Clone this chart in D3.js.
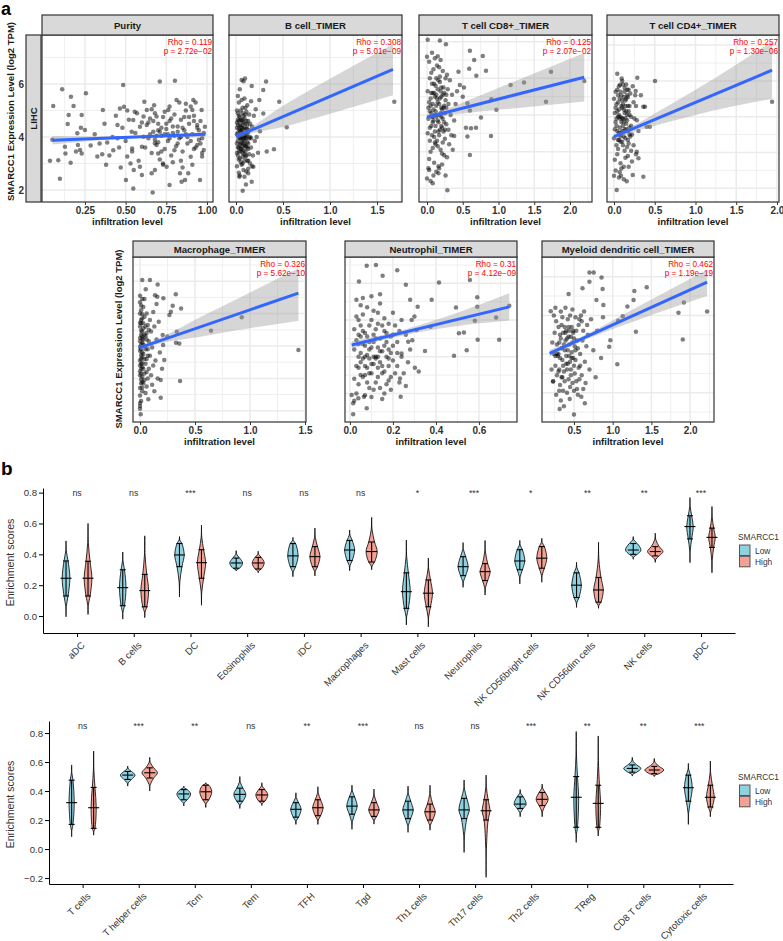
<!DOCTYPE html>
<html><head><meta charset="utf-8">
<script src="https://cdn.jsdelivr.net/npm/d3@7"></script>
<style>body{margin:0;background:#fff}svg{display:block}text{font-family:"Liberation Sans",Arial,Helvetica,sans-serif}</style>
</head><body><svg id="c" width="783" height="941"></svg>
<script>
// ================= DATA: panel a =================
const panelTitles=["Purity","B cell_TIMER","T cell CD8+_TIMER","T cell CD4+_TIMER","Macrophage_TIMER","Neutrophil_TIMER","Myeloid dendritic cell_TIMER"];
const rhoLabels=["0.119","0.308","0.125","0.257","0.326","0.31","0.462"];
const pLabels=["2.72e\u221202","5.01e\u221209","2.07e\u221202","1.30e\u221206","5.62e\u221210","4.12e\u221209","1.19e\u221219"];
const cancerLabel="LIHC";
const yTitle="SMARCC1 Expression Level (log2 TPM)";
const xTitle="infiltration level";

const purityPts=[[0.05,3.9],[0.055,5.17],[0.11,5.8],[0.164,5.52],[0.256,5.65],[0.18,5.17],[0.15,4.83],[0.144,4.49],[0.23,4.83],[0.225,4.35],[0.25,4.26],[0.203,4.14],[0.035,3.1],[0.086,3.12],[0.096,2.42],[0.162,3.03],[0.13,3.38],[0.195,3.45],[0.22,3.51],[0.127,3.63],[0.207,3.7],[0.285,3.68],[0.23,3.38],[0.326,3.26],[0.36,5.02],[0.356,3.35],[0.387,3.79],[0.424,3.5],[0.45,4.45],[0.465,5.08],[0.49,5.14],[0.485,5.96],[0.502,2.38],[0.547,2.06],[0.51,3.26],[0.53,3.0],[0.54,3.57],[0.537,4.2],[0.547,4.64],[0.556,4.95],[0.615,5.33],[0.63,5.02],[0.61,4.77],[0.588,4.39],[0.61,4.01],[0.6,3.63],[0.588,2.88],[0.6,2.57],[0.66,2.63],[0.666,1.91],[0.68,2.75],[0.71,6.09],[0.803,6.12],[0.675,5.2],[0.69,4.77],[0.71,4.2],[0.68,3.76],[0.7,3.38],[0.73,3.0],[0.752,2.88],[0.77,2.19],[0.762,5.02],[0.813,5.4],[0.834,2.63],[0.844,2.31],[0.865,2.38],[0.885,2.63],[0.957,2.38],[0.916,5.4],[0.91,5.02],[0.967,5.02],[0.987,4.39],[0.98,3.51],[0.97,3.26],
[0.63,4.45],[0.64,3.95],[0.65,4.7],[0.66,3.4],[0.67,4.2],[0.68,4.9],[0.69,3.7],[0.70,4.5],[0.71,3.15],[0.72,4.05],[0.73,4.75],[0.74,3.55],[0.75,4.3],[0.76,3.85],[0.77,4.6],[0.78,3.3],[0.79,4.15],[0.80,4.85],[0.81,3.65],[0.82,4.4],[0.83,3.95],[0.84,4.65],[0.85,3.45],[0.86,4.25],[0.87,5.0],[0.88,3.75],[0.89,4.5],[0.90,3.25],[0.91,4.1],[0.92,4.8],[0.93,3.6],[0.94,4.35],[0.95,3.9],[0.96,4.6],[0.97,3.4],[0.98,4.15],
[0.62,3.6],[0.64,4.55],[0.66,5.05],[0.68,3.9],[0.70,4.25],[0.72,3.45],[0.74,4.95],[0.76,4.1],[0.78,4.7],[0.80,3.5],[0.82,4.2],[0.84,3.1],[0.86,4.75],[0.88,4.0],[0.90,5.15],[0.92,3.55],[0.94,4.45],[0.96,3.75],[0.73,2.95],[0.79,3.05],[0.85,2.85],[0.91,2.95],[0.87,5.25],[0.93,5.3],[0.83,5.3],[0.77,5.15],
[0.31,4.1],[0.34,3.75],[0.37,4.5],[0.40,3.3],[0.42,4.0],[0.44,4.8],[0.46,3.6],[0.48,4.35],[0.50,3.85],[0.52,4.65],[0.54,3.45],[0.56,4.15],[0.58,3.1],[0.60,4.55],[0.38,2.95],[0.47,2.85],[0.55,2.75],[0.51,5.0],[0.57,4.9],[0.45,3.95],
[0.65,4.1],[0.70,3.8],[0.75,4.5],[0.80,4.05],[0.85,4.35],[0.90,3.85],[0.95,4.25],[0.67,4.6],[0.72,4.35],[0.77,3.95],[0.82,3.75],[0.87,4.1],[0.92,4.6],[0.97,3.95],[0.74,4.1],[0.79,4.4],[0.84,4.0],[0.89,4.75],[0.94,3.7],[0.69,4.05]];

const bcellPts=[[1.684,5.33],[0.54,4.37],[0.46,5.33],[0.404,3.54],[0.327,3.45],[0.32,6.09],[0.29,5.77],[0.248,5.4],[0.167,5.92],[0.096,6.21],[0.071,1.97],[0.106,2.21],[0.167,2.31],[0.035,2.5],[0.22,4.0],[0.234,3.41],[0.255,4.22],[0.29,4.89],[0.184,2.88],[0.15,3.0],[0.13,2.63],
[0.01,4.1],[0.03,3.6],[0.05,4.4],[0.07,3.9],[0.09,4.7],[0.11,3.3],[0.13,4.2],[0.02,4.9],[0.04,3.2],[0.06,4.0],[0.08,3.5],[0.10,4.5],[0.12,3.8],[0.14,4.85],[0.01,3.4],[0.03,4.6],[0.05,3.75],[0.07,5.1],[0.09,3.1],[0.11,4.3],[0.13,3.55],[0.02,3.85],[0.04,4.25],[0.06,2.95],[0.08,4.55],[0.10,3.95],[0.12,5.2],[0.14,3.35],[0.01,4.55],[0.03,5.3],[0.05,3.05],[0.07,4.15],[0.09,3.7],[0.11,4.95],[0.13,2.8],[0.02,3.3],[0.04,4.75],[0.06,4.35],[0.08,2.75],[0.10,3.25],[0.12,4.1],[0.15,4.0],[0.01,2.9],[0.03,4.0],[0.05,5.0],[0.07,3.4],[0.09,4.05],[0.11,3.65],[0.13,4.6],[0.02,4.45],[0.04,3.7],[0.06,5.4],[0.08,3.95],[0.10,4.85],[0.12,3.1],[0.16,3.6],[0.03,2.65],[0.05,4.2],[0.07,4.65],[0.09,5.45],[0.11,2.7],[0.06,3.55],[0.08,4.3],[0.02,5.55],[0.04,2.55],[0.10,5.1],[0.12,4.45],[0.14,3.95],[0.17,4.4],[0.18,3.3],[0.19,4.8],[0.20,3.85],[0.21,5.05],[0.16,5.35],[0.17,2.9],[0.04,5.8],[0.06,6.15],[0.08,6.1],[0.05,3.45],[0.07,3.0],[0.09,2.5],[0.03,3.15],[0.01,5.0],
[0.02,4.15],[0.04,3.95],[0.06,4.6],[0.08,3.75],[0.10,4.15],[0.12,3.6],[0.03,4.3],[0.05,3.55],[0.07,4.45],[0.09,3.85],[0.11,4.05],[0.13,3.75],[0.01,3.75],[0.03,3.45],[0.05,4.65],[0.07,3.65],[0.09,4.35],[0.11,4.6],[0.04,4.45],[0.06,3.8],[0.08,4.8],[0.10,3.65],[0.02,3.6],[0.06,4.25],[0.08,4.05],[0.12,4.3],[0.14,4.25],[0.04,4.05],[0.10,3.45],[0.02,4.65],[0.07,3.25],[0.09,3.35],[0.05,3.95],[0.03,4.8],[0.11,3.95],[0.13,3.1],[0.15,4.5],[0.16,3.95],[0.01,4.35],[0.07,4.9]];

const cd8Pts=[[0.01,6.05],[0.18,6.03],[0.265,5.93],[0.6,5.75],[0.78,5.61],[0.66,5.5],[0.59,5.26],[0.825,5.21],[0.69,5.07],[1.734,5.18],[2.2,4.93],[1.357,4.89],[1.17,4.82],[1.664,4.36],[0.9,4.43],[0.97,4.14],[0.6,4.12],[0.755,3.93],[0.545,3.65],[0.615,3.64],[0.685,3.65],[0.565,3.41],[0.895,3.43],[0.6,2.91],[0.517,4.75],[0.565,4.32],[0.5,4.5],[0.44,5.18],[0.46,4.82],[0.38,3.43],[0.285,1.95],[0.08,2.14],[0.0,2.27],[0.16,2.41],[0.03,2.5],[0.0,5.59],
[0.02,4.2],[0.06,3.7],[0.10,4.6],[0.14,3.3],[0.18,4.9],[0.22,3.9],[0.26,4.4],[0.30,3.6],[0.04,5.0],[0.08,3.1],[0.12,4.1],[0.16,3.8],[0.20,4.5],[0.24,2.9],[0.28,5.1],[0.33,4.0],[0.01,3.5],[0.05,4.45],[0.09,5.25],[0.13,3.95],[0.17,3.45],[0.21,4.15],[0.25,3.35],[0.29,4.7],[0.03,2.8],[0.07,4.85],[0.11,3.55],[0.15,4.35],[0.19,3.05],[0.23,4.75],[0.27,3.75],[0.31,3.2],[0.02,3.9],[0.06,4.05],[0.10,2.7],[0.14,5.35],[0.18,4.0],[0.22,3.25],[0.26,5.0],[0.35,4.55],[0.04,3.3],[0.08,4.3],[0.12,4.8],[0.16,2.6],[0.20,3.7],[0.24,4.25],[0.28,2.85],[0.32,4.95],[0.01,4.65],[0.05,3.0],[0.09,3.85],[0.13,4.55],[0.17,5.3],[0.21,2.95],[0.25,4.05],[0.38,3.85],[0.03,5.45],[0.07,3.45],[0.11,4.0],[0.15,3.15],[0.19,4.65],[0.23,3.55],[0.27,4.2],[0.36,3.05],[0.02,2.55],[0.06,5.15],[0.10,3.4],[0.14,4.45],[0.18,3.6],[0.22,5.2],[0.30,4.3],[0.40,4.3],[0.04,4.1],[0.08,3.95],[0.12,3.2],[0.16,4.95],[0.20,4.2],[0.24,3.8],[0.34,3.45],[0.42,4.65],[0.09,2.35],[0.13,2.45],[0.17,2.55],[0.21,2.65],[0.26,2.35],[0.05,2.2],[0.11,5.55],[0.15,5.6],[0.19,5.5],[0.07,5.7],
[0.05,4.25],[0.08,3.8],[0.11,4.5],[0.14,4.0],[0.17,4.3],[0.20,3.95],[0.23,4.2],[0.06,4.6],[0.09,4.15],[0.12,3.7],[0.15,4.7],[0.18,4.45],[0.21,3.65],[0.24,4.6],[0.07,3.95],[0.10,4.85],[0.13,4.25],[0.16,3.55],[0.19,4.05],[0.22,4.55],[0.04,3.65],[0.11,3.25],[0.15,3.85],[0.18,5.05],[0.20,4.75],[0.13,5.0],[0.08,4.6],[0.25,3.6],[0.27,4.55],[0.03,4.35]];

const cd4Pts=[[1.94,4.42],[0.503,5.0],[0.286,5.09],[0.094,5.07],[0.074,4.89],[0.163,4.75],[0.266,4.72],[0.36,4.28],[0.38,4.28],[0.44,3.72],[0.4,3.72],[0.28,3.02],[0.36,2.32],[0.23,2.37],[0.156,2.2],[0.086,2.35],[0.033,1.95],[0.0,2.35],[0.3,2.84],
[0.01,4.1],[0.04,3.6],[0.07,4.5],[0.10,3.3],[0.13,4.8],[0.16,3.9],[0.19,4.3],[0.22,3.5],[0.02,4.7],[0.05,3.1],[0.08,4.0],[0.11,3.75],[0.14,4.45],[0.17,2.9],[0.20,4.65],[0.25,3.95],[0.00,3.4],[0.03,4.35],[0.06,4.85],[0.09,3.85],[0.12,3.45],[0.15,4.15],[0.18,3.25],[0.21,4.0],[0.01,2.8],[0.04,4.75],[0.07,3.5],[0.10,4.25],[0.13,3.05],[0.16,4.6],[0.19,3.7],[0.27,4.3],[0.02,3.85],[0.05,4.0],[0.08,2.7],[0.11,4.9],[0.14,3.95],[0.17,3.35],[0.23,4.85],[0.30,3.6],[0.00,4.5],[0.03,3.2],[0.06,4.2],[0.09,4.6],[0.12,2.6],[0.15,3.65],[0.18,4.75],[0.24,3.2],[0.01,3.65],[0.04,2.95],[0.07,3.95],[0.10,5.0],[0.13,4.1],[0.16,3.15],[0.20,3.45],[0.26,4.6],[0.02,2.5],[0.05,4.4],[0.08,3.3],[0.11,4.35],[0.14,2.85],[0.17,4.3],[0.22,2.75],[0.28,3.9],[0.03,3.95],[0.06,3.35],[0.09,2.55],[0.12,4.55],[0.15,4.9],[0.19,4.05],[0.24,4.4],[0.33,4.6],[0.04,5.2],[0.07,2.45],[0.10,3.6],[0.18,2.6],[0.06,2.3],[0.12,2.25],[0.21,3.05],[0.27,2.95],
[0.03,3.75],[0.06,4.05],[0.09,3.55],[0.12,4.2],[0.15,3.8],[0.18,4.15],[0.05,4.6],[0.08,3.45],[0.11,3.95],[0.14,4.3],[0.17,3.6],[0.04,4.15],[0.07,3.7],[0.10,4.45],[0.13,3.65],[0.16,4.05],[0.19,3.5],[0.02,4.25],[0.06,3.55],[0.09,4.3],[0.12,3.85],[0.15,4.5],[0.08,4.7],[0.11,3.2],[0.14,3.4],[0.05,3.35],[0.10,3.95],[0.13,4.7],[0.17,4.55],[0.21,3.75]];

const macroPts=[[1.44,3.88],[0.925,4.89],[0.645,4.47],[0.364,2.92],[0.325,5.6],[0.373,5.16],[0.28,5.06],[0.297,5.24],[0.267,4.96],[0.334,4.44],[0.357,4.08],[0.327,4.1],[0.212,5.47],[0.157,5.52],[0.09,6.04],[0.02,6.04],[0.16,5.9],[0.052,5.75],[0.136,5.57],[0.188,2.4],[0.075,2.36],[0.188,2.95],[0.22,3.57],[0.248,4.29],[0.206,4.34],[0.21,4.03],[0.006,1.89],[0.0,2.06],[0.0,2.24],
[0.00,5.35],[0.01,5.1],[0.02,4.85],[0.00,4.6],[0.01,4.35],[0.02,4.1],[0.00,3.85],[0.01,3.6],[0.02,3.35],[0.00,3.1],[0.01,2.85],[0.02,2.6],[0.01,5.25],[0.02,4.98],[0.00,4.72],[0.01,4.48],[0.02,4.22],[0.00,3.97],[0.01,3.72],[0.02,3.47],[0.00,3.22],[0.01,2.97],[0.02,2.72],[0.00,2.47],[0.03,5.2],[0.04,4.9],[0.03,4.55],[0.05,4.3],[0.04,4.0],[0.03,3.75],[0.05,3.45],[0.04,3.15],[0.03,2.85],[0.05,2.55],[0.06,5.0],[0.07,4.65],[0.06,4.4],[0.08,4.15],[0.07,3.9],[0.06,3.6],[0.08,3.3],[0.07,3.0],[0.06,2.75],[0.09,4.8],[0.10,4.45],[0.11,3.95],[0.09,3.7],[0.12,3.4],[0.10,3.1],[0.13,4.6],[0.12,5.05],[0.15,4.2],[0.14,3.55],[0.16,3.0],[0.11,2.8],[0.17,4.75],[0.18,3.8],[0.15,5.3],[0.20,3.3],[0.13,2.6],[0.01,2.3],[0.00,2.15],[0.02,5.45],[0.00,5.55],[0.04,5.45],[0.01,4.8],[0.00,4.25],[0.02,3.8],[0.01,3.3],[0.00,2.7],[0.03,4.2],[0.02,3.05],
[0.00,5.0],[0.01,4.7],[0.02,4.45],[0.00,4.15],[0.01,3.9],[0.02,3.65],[0.00,3.4],[0.01,3.15],[0.02,2.9],[0.03,4.7],[0.04,4.35],[0.03,4.05],[0.04,3.6],[0.03,3.3],[0.05,3.9],[0.05,4.6],[0.04,2.95],[0.01,4.05],[0.00,3.55],[0.02,4.3],[0.01,3.45],[0.06,4.2],[0.07,3.7],[0.08,4.5],[0.06,3.2]];

const neutroPts=[[0.741,5.39],[0.68,5.07],[0.694,4.46],[0.592,5.62],[0.592,5.36],[0.581,4.98],[0.558,6.09],[0.543,4.18],[0.594,4.46],[0.493,5.34],[0.53,4.66],[0.507,4.64],[0.484,4.03],[0.414,6.02],[0.38,5.55],[0.375,4.82],[0.349,4.16],[0.315,5.36],[0.302,3.7],[0.236,2.91],[0.26,5.96],[0.22,6.36],[0.152,6.21],[0.121,6.5],[0.078,6.48],[0.042,6.05],[0.015,2.43],[0.078,2.6],[0.015,2.73],[0.008,2.96],[0.039,2.87],[0.065,2.91],[0.28,5.55],[0.287,5.0],[0.31,4.73],[0.271,4.41],[0.24,4.09],[0.233,3.41],
[0.02,4.2],[0.04,3.7],[0.06,4.7],[0.08,3.3],[0.10,5.0],[0.12,4.0],[0.14,4.5],[0.16,3.6],[0.18,4.9],[0.20,3.9],[0.22,4.4],[0.03,5.1],[0.05,4.1],[0.07,3.5],[0.09,4.4],[0.11,3.8],[0.13,5.2],[0.15,4.15],[0.17,3.25],[0.19,4.55],[0.21,3.55],[0.24,4.0],[0.02,3.4],[0.04,4.6],[0.06,3.95],[0.08,5.35],[0.10,3.55],[0.12,4.75],[0.14,3.15],[0.16,4.3],[0.18,3.75],[0.20,5.2],[0.23,3.3],[0.03,3.0],[0.05,4.85],[0.07,4.3],[0.09,3.15],[0.11,4.6],[0.13,3.45],[0.15,4.85],[0.17,4.0],[0.19,3.45],[0.21,4.85],[0.26,4.6],[0.02,4.75],[0.04,3.25],[0.06,3.45],[0.08,4.05],[0.10,4.25],[0.12,3.3],[0.14,3.85],[0.16,5.05],[0.18,4.2],[0.22,3.75],[0.25,3.55],[0.03,3.75],[0.05,5.4],[0.07,2.95],[0.09,4.85],[0.11,5.25],[0.13,4.25],[0.15,3.55],[0.17,4.65],[0.19,3.1],[0.24,5.0],[0.28,4.2],[0.02,2.8],[0.04,4.35],[0.06,5.15],[0.08,3.7],[0.10,2.9],[0.12,3.95],[0.14,5.45],[0.16,3.0],[0.20,4.3],[0.27,3.85],[0.30,5.1],[0.05,3.5],[0.07,4.0],[0.09,3.95],[0.11,3.1],[0.13,3.7],[0.15,2.85],[0.18,3.35],[0.23,4.7],[0.26,3.2],[0.29,4.45],[0.32,3.6],[0.06,5.6],[0.10,5.65],[0.14,5.7],[0.03,5.55],
[0.04,4.0],[0.06,4.35],[0.08,4.55],[0.10,3.8],[0.12,4.5],[0.14,4.15],[0.16,4.7],[0.18,3.95],[0.05,4.55],[0.07,3.75],[0.09,4.2],[0.11,4.0],[0.13,4.9],[0.15,3.75],[0.17,4.4],[0.19,4.1],[0.03,4.45],[0.05,3.85],[0.07,4.65],[0.09,3.55],[0.11,4.4],[0.13,4.0],[0.20,4.6],[0.22,4.1],[0.04,5.0]];

const mdcPts=[[2.22,5.1],[1.92,5.33],[1.85,5.07],[1.906,4.38],[1.44,5.73],[1.28,5.63],[1.27,5.4],[1.19,5.23],[1.13,4.98],[1.3,4.58],[1.07,4.86],[1.06,3.74],[0.97,4.36],[0.955,4.19],[0.87,5.68],[0.856,5.98],[0.70,6.11],[0.755,6.11],[0.7,5.87],[0.61,5.7],[0.88,5.27],[0.875,4.95],[0.79,5.4],[0.64,2.73],[0.5,2.44],[0.315,2.58],[0.445,2.84],[0.595,2.9],[0.23,3.29],[0.2,5.11],[0.43,5.55],
[0.22,4.3],[0.26,3.7],[0.30,4.7],[0.34,3.4],[0.38,4.1],[0.42,4.9],[0.46,3.6],[0.50,4.4],[0.54,3.1],[0.58,4.0],[0.62,4.6],[0.24,5.0],[0.28,4.0],[0.32,3.2],[0.36,4.55],[0.40,3.75],[0.44,4.25],[0.48,5.15],[0.52,3.85],[0.56,4.75],[0.60,3.45],[0.66,4.2],[0.21,3.6],[0.25,4.55],[0.29,3.95],[0.33,5.1],[0.37,3.55],[0.41,4.4],[0.45,3.15],[0.49,3.9],[0.53,4.6],[0.57,3.35],[0.64,3.8],[0.23,3.3],[0.27,4.85],[0.31,4.3],[0.35,3.85],[0.39,5.2],[0.43,3.35],[0.47,4.7],[0.51,3.5],[0.55,4.15],[0.59,5.0],[0.68,4.5],[0.24,4.0],[0.28,3.45],[0.32,4.5],[0.36,3.05],[0.40,4.6],[0.44,3.95],[0.48,3.25],[0.52,4.95],[0.56,3.65],[0.61,4.35],[0.70,3.6],[0.26,5.2],[0.30,3.55],[0.34,4.15],[0.38,3.3],[0.42,3.75],[0.46,4.45],[0.50,3.05],[0.54,4.35],[0.58,3.7],[0.63,5.1],[0.72,4.9],[0.27,2.95],[0.31,3.05],[0.35,4.95],[0.39,4.35],[0.43,4.7],[0.47,4.05],[0.51,4.2],[0.55,2.95],[0.60,4.85],[0.65,3.25],[0.75,4.1],[0.33,2.8],[0.37,2.65],[0.41,3.0],[0.45,5.0],[0.49,4.55],[0.53,3.3],[0.57,4.9],[0.62,3.1],[0.67,4.75],[0.78,3.4],[0.80,4.6],[0.85,3.9],
[0.30,4.0],[0.33,4.4],[0.36,3.7],[0.39,4.55],[0.42,4.1],[0.45,3.8],[0.48,4.3],[0.31,3.6],[0.34,4.75],[0.37,4.25],[0.40,3.95],[0.43,4.45],[0.46,3.45],[0.49,4.6],[0.32,3.9],[0.35,3.4],[0.38,4.7],[0.41,3.6],[0.44,4.6],[0.47,3.9],[0.52,4.1],[0.28,4.25],[0.26,3.95],[0.50,3.7]];

// regression fits [x0,y0,x1,y1] and confidence bands [x, lower, upper]
const purityFit=[0.05,3.88,0.99,4.10];
const purityBand=[[0.05,3.72,4.04],[0.3,3.86,4.02],[0.7,3.98,4.08],[0.99,4.00,4.20]];
const bcellFit=[0,4.01,1.67,6.55];
const bcellBand=[[0,3.91,4.11],[0.1,4.06,4.26],[0.5,4.38,5.18],[1.0,4.88,6.20],[1.67,5.58,7.50]];
const cd8Fit=[0,3.94,2.2,5.03];
const cd8Band=[[0,3.86,4.02],[0.2,3.97,4.11],[0.5,4.04,4.34],[1.0,4.14,4.74],[2.2,4.37,5.69]];
const cd4Fit=[0,3.44,1.94,5.30];
const cd4Band=[[0,3.36,3.52],[0.15,3.51,3.65],[0.5,3.75,4.09],[1.0,4.05,4.75],[1.94,4.5,6.1]];
const macroFit=[0,3.95,1.44,5.63];
const macroBand=[[0,3.88,4.02],[0.1,4.0,4.14],[0.6,4.32,4.98],[1.44,4.78,6.4]];
const neutroFit=[0.008,4.32,0.741,5.36];
const neutroBand=[[0.008,4.22,4.42],[0.15,4.45,4.59],[0.5,4.84,5.2],[0.741,4.99,5.73]];
const mdcFit=[0.186,4.02,2.22,5.86];
const mdcBand=[[0.186,3.93,4.11],[0.5,4.24,4.36],[1.3,4.86,5.2],[2.22,5.5,6.18]];

// ================= DATA: panel b =================
const groups=["Low","High"];
const groupColors=["#8ED2E2","#F3A194"];
const legendTitle="SMARCC1";
const cats1=["aDC","B cells","DC","Eosinophils","iDC","Macrophages","Mast cells","Neutrophils","NK CD56bright cells","NK CD56dim cells","NK cells","pDC"];
const sig1=["ns","ns","***","ns","ns","ns","*","***","*","**","**","***"];
// [min, lower cap, median, upper cap, max, relative density width]
const low1=[[-0.005,0.13,0.245,0.357,0.487,0.45],[-0.02,0.067,0.184,0.30,0.415,0.38],[0.123,0.32,0.396,0.47,0.515,0.55],[0.292,0.31,0.344,0.376,0.424,0.75],[0.255,0.32,0.39,0.47,0.51,0.6],[0.294,0.36,0.428,0.49,0.558,0.58],[-0.058,0.05,0.158,0.28,0.493,0.45],[0.186,0.262,0.32,0.385,0.476,0.58],[0.208,0.30,0.357,0.43,0.49,0.58],[0.056,0.12,0.20,0.28,0.348,0.55],[0.368,0.40,0.428,0.47,0.515,0.9],[0.346,0.50,0.58,0.65,0.768,0.38]];
const high1=[[0.01,0.13,0.245,0.355,0.60,0.45],[-0.01,0.06,0.165,0.27,0.52,0.45],[0.07,0.245,0.346,0.43,0.59,0.48],[0.28,0.305,0.344,0.38,0.42,0.7],[0.26,0.32,0.385,0.45,0.57,0.58],[0.30,0.35,0.418,0.48,0.64,0.65],[-0.07,0.06,0.148,0.234,0.376,0.48],[0.136,0.23,0.288,0.34,0.49,0.58],[0.219,0.31,0.375,0.45,0.504,0.58],[0.05,0.09,0.169,0.25,0.478,0.55],[0.348,0.39,0.418,0.45,0.537,0.9],[0.28,0.445,0.51,0.57,0.71,0.38]];
const cats2=["T cells","T helper cells","Tcm","Tem","TFH","Tgd","Th1 cells","Th17 cells","Th2 cells","TReg","CD8 T cells","Cytotoxic cells"];
const sig2=["ns","***","**","ns","**","***","ns","ns","***","**","**","***"];
const low2=[[0.085,0.17,0.32,0.475,0.58,0.3],[0.434,0.48,0.51,0.535,0.572,0.85],[0.297,0.34,0.38,0.41,0.434,0.8],[0.28,0.33,0.377,0.42,0.50,0.7],[0.17,0.22,0.274,0.32,0.388,0.6],[0.136,0.24,0.296,0.36,0.44,0.6],[0.115,0.21,0.27,0.33,0.434,0.6],[-0.023,0.21,0.27,0.35,0.476,0.6],[0.223,0.28,0.31,0.36,0.41,0.7],[0.046,0.15,0.357,0.50,0.81,0.28],[0.503,0.53,0.556,0.58,0.632,1.0],[0.17,0.33,0.423,0.51,0.59,0.45]];
const high2=[[0.096,0.143,0.285,0.425,0.676,0.3],[0.40,0.49,0.526,0.56,0.632,0.9],[0.287,0.34,0.395,0.44,0.457,0.7],[0.30,0.33,0.373,0.41,0.457,0.7],[0.17,0.23,0.285,0.34,0.43,0.6],[0.172,0.225,0.27,0.32,0.414,0.6],[0.13,0.20,0.257,0.31,0.44,0.6],[-0.195,0.20,0.264,0.34,0.51,0.45],[0.223,0.30,0.343,0.39,0.448,0.7],[0.09,0.15,0.315,0.44,0.78,0.28],[0.50,0.52,0.545,0.57,0.625,1.1],[0.223,0.29,0.357,0.44,0.607,0.45]];

// ================= LAYOUT =================
const ptsAll=[purityPts,bcellPts,cd8Pts,cd4Pts,macroPts,neutroPts,mdcPts];
const fitsAll=[purityFit,bcellFit,cd8Fit,cd4Fit,macroFit,neutroFit,mdcFit];
const bandsAll=[purityBand,bcellBand,cd8Band,cd4Band,macroBand,neutroBand,mdcBand];
const R1={y0:35,y1:202,s:15}, R2={y0:257,y1:422,s:241};
const layoutA=[
 {x0:42,x1:213,r:R1,xd:[-0.014,1.037],yd:[1.547,7.849],xt:[0.25,0.5,0.75,1],xm:[0.125,0.375,0.625,0.875],fmt:".2f",yt:[2,4,6],ym:[3,5,7]},
 {x0:229,x1:402,r:R1,xd:[-0.0745,1.766],yd:[1.547,7.849],xt:[0,0.5,1,1.5],xm:[0.25,0.75,1.25,1.75],fmt:".1f",yt:[2,4,6],ym:[3,5,7]},
 {x0:419,x1:592,r:R1,xd:[-0.112,2.308],yd:[1.626,6.183],xt:[0,0.5,1,1.5,2],xm:[0.25,0.75,1.25,1.75,2.25],fmt:".1f",yt:[2,3,4,5,6],ym:[2.5,3.5,4.5,5.5]},
 {x0:607,x1:779,r:R1,xd:[-0.086,2.025],yd:[1.617,6.282],xt:[0,0.5,1,1.5,2],xm:[0.25,0.75,1.25,1.75],fmt:".1f",yt:[2,3,4,5,6],ym:[2.5,3.5,4.5,5.5]},
 {x0:133,x1:306,r:R2,xd:[-0.064,1.509],yd:[1.654,6.747],xt:[0,0.5,1,1.5],xm:[0.25,0.75,1.25],fmt:".1f",yt:[2,3,4,5,6],ym:[2.5,3.5,4.5,5.5,6.5]},
 {x0:345,x1:517,r:R2,xd:[-0.023,0.777],yd:[2.222,6.718],xt:[0,0.2,0.4,0.6],xm:[0.1,0.3,0.5,0.7],fmt:".1f",yt:[3,4,5,6],ym:[2.5,3.5,4.5,5.5,6.5]},
 {x0:542,x1:714,r:R2,xd:[0.087,2.309],yd:[2.245,6.509],xt:[0.5,1,1.5,2],xm:[0.25,0.75,1.25,1.75,2.25],fmt:".1f",yt:[3,4,5,6],ym:[2.5,3.5,4.5,5.5,6.5]}
];

const svg=d3.select("#c");
svg.append("rect").attr("width",783).attr("height",941).attr("fill","#fff");
const defs=svg.append("defs");

// panel letters
svg.append("text").attr("x",1).attr("y",15).attr("font-size",18).attr("font-weight","bold").text("a");
svg.append("text").attr("x",1).attr("y",475).attr("font-size",19).attr("font-weight","bold").text("b");

layoutA.forEach((L,i)=>{
  const y0=L.r.y0,y1=L.r.y1;
  const x=d3.scaleLinear().domain(L.xd).range([L.x0,L.x1]);
  const y=d3.scaleLinear().domain(L.yd).range([y1,y0]);
  const g=svg.append("g");
  defs.append("clipPath").attr("id","cp"+i).append("rect").attr("x",L.x0).attr("y",y0).attr("width",L.x1-L.x0).attr("height",y1-y0);
  const inner=g.append("g").attr("clip-path",`url(#cp${i})`);
  const grid=(vals,vert,w)=>inner.append("g").selectAll("line").data(vals).join("line")
     .attr("x1",d=>vert?x(d):L.x0).attr("x2",d=>vert?x(d):L.x1)
     .attr("y1",d=>vert?y0:y(d)).attr("y2",d=>vert?y1:y(d))
     .attr("stroke","#EBEBEB").attr("stroke-width",w);
  grid(L.xm,true,0.8); grid(L.ym,false,0.8); grid(L.xt,true,1.5); grid(L.yt,false,1.5);
  inner.append("g").selectAll("circle").data(ptsAll[i]).join("circle")
    .attr("cx",d=>x(d[0])).attr("cy",d=>y(d[1])).attr("r",2.25)
    .attr("fill","#000").attr("fill-opacity",0.5);
  const area=d3.area().x(d=>x(d[0])).y0(d=>y(d[1])).y1(d=>y(d[2])).curve(d3.curveMonotoneX);
  inner.append("path").datum(bandsAll[i]).attr("d",area).attr("fill","#999").attr("fill-opacity",0.4);
  const f=fitsAll[i];
  inner.append("line").attr("x1",x(f[0])).attr("y1",y(f[1])).attr("x2",x(f[2])).attr("y2",y(f[3]))
    .attr("stroke","#3366FF").attr("stroke-width",3).attr("stroke-linecap","butt");
  g.append("rect").attr("x",L.x0).attr("y",y0).attr("width",L.x1-L.x0).attr("height",y1-y0)
    .attr("fill","none").attr("stroke","#333").attr("stroke-width",1.2);
  // strip
  g.append("rect").attr("x",L.x0).attr("y",L.r.s).attr("width",L.x1-L.x0).attr("height",y0-L.r.s)
    .attr("fill","#D9D9D9").attr("stroke","#333").attr("stroke-width",1.2);
  g.append("text").attr("x",(L.x0+L.x1)/2).attr("y",(L.r.s+y0)/2+3.5).attr("text-anchor","middle")
    .attr("font-size",9.6).attr("font-weight","bold").attr("fill","#1a1a1a").text(panelTitles[i]);
  // x axis
  const ax=g.append("g").attr("transform",`translate(0,${y1})`)
    .call(d3.axisBottom(x).tickValues(L.xt).tickFormat(d3.format(L.fmt)).tickSize(3).tickPadding(2));
  ax.select(".domain").remove();
  ax.selectAll("line").attr("stroke","#333");
  ax.selectAll("text").attr("font-size",10).attr("font-weight","bold").attr("fill","#333").attr("font-family",'"Liberation Sans",Arial,sans-serif');
  g.append("text").attr("x",(L.x0+L.x1)/2).attr("y",y1+22.5).attr("text-anchor","middle")
    .attr("font-size",9.6).attr("font-weight","bold").attr("fill","#1a1a1a").text(xTitle);
  // stats
  const a=g.append("text").attr("text-anchor","end").attr("font-size",8.2).attr("fill","#FF0000");
  a.append("tspan").attr("x",L.x1-1).attr("y",y0+10).text("Rho = "+rhoLabels[i]);
  a.append("tspan").attr("x",L.x1-1).attr("y",y0+18.6).text("p = "+pLabels[i]);
  if(i===0){
    const ay=g.append("g").attr("transform","translate(25,0)")
      .call(d3.axisLeft(y).tickValues(L.yt).tickFormat(d3.format("d")).tickSize(0).tickPadding(1));
    ay.select(".domain").remove();
    ay.selectAll("text").attr("font-size",10).attr("font-weight","bold").attr("fill","#333").attr("font-family",'"Liberation Sans",Arial,sans-serif');
    g.append("rect").attr("x",26).attr("y",y0).attr("width",15).attr("height",y1-y0)
      .attr("fill","#D9D9D9").attr("stroke","#333").attr("stroke-width",1.2);
    g.append("text").attr("transform",`translate(37,${(y0+y1)/2}) rotate(-90)`).attr("text-anchor","middle")
      .attr("font-size",9.6).attr("font-weight","bold").attr("fill","#1a1a1a").text(cancerLabel);
  }
});
// y titles for panel a rows
svg.append("text").attr("transform","translate(13.5,111.5) rotate(-90)").attr("text-anchor","middle")
  .attr("font-size",9.5).attr("font-weight","bold").attr("fill","#1a1a1a").text(yTitle);
svg.append("text").attr("transform","translate(121.5,339) rotate(-90)").attr("text-anchor","middle")
  .attr("font-size",9.5).attr("font-weight","bold").attr("fill","#1a1a1a").text(yTitle);

// ================= panel b violins =================
function violinChart(cats,sig,lowD,highD,B){
  const g=svg.append("g");
  const x=d3.scalePoint().domain(cats).range([B.xa0,B.xa1]).padding(0.6);
  const y=d3.scaleLinear().domain(B.yd).range([B.yb,B.yt]);
  const off=d3.scalePoint().domain(groups).range([-11,11]);
  const wS=d3.scaleLinear().domain([0,1]).range([0,8.6]);
  const area=d3.area().y(d=>y(d[0])).x0(d=>d.cx-wS(d[1])).x1(d=>d.cx+wS(d[1])).curve(d3.curveCatmullRom.alpha(0.5));
  [lowD,highD].forEach((D,gi)=>{
    D.forEach((v,ci)=>{
      const cx=x(cats[ci])+off(groups[gi]);
      const [mn,lo,md,hi,mx,w]=v;
      const shape=[[mn,0],[mn+(lo-mn)*0.5,w*0.08],[lo,w*0.52],[md,w],[hi,w*0.52],[hi+(mx-hi)*0.5,w*0.08],[mx,0]];
      shape.forEach(p=>p.cx=cx);
      g.append("path").datum(shape).attr("d",area).attr("fill",groupColors[gi]).attr("stroke","#000").attr("stroke-width",0.8);
      const cl=(x1,x2,y1,y2)=>g.append("line").attr("x1",x1).attr("x2",x2).attr("y1",y1).attr("y2",y2).attr("stroke","#000").attr("stroke-width",1.1);
      cl(cx,cx,y(lo),y(hi));
      cl(cx-3,cx+3,y(lo),y(lo)); cl(cx-3,cx+3,y(hi),y(hi));
      cl(cx-5.5,cx+5.5,y(md),y(md));
    });
  });
  // significance
  g.append("g").selectAll("text").data(cats).join("text").attr("x",d=>x(d)).attr("y",B.sigY)
    .attr("text-anchor","middle").attr("font-size",8.8).attr("fill","#333").text((d,i)=>sig[i]);
  // axes
  const ay=g.append("g").attr("transform",`translate(${B.xa0},0)`)
    .call(d3.axisLeft(y).tickValues(B.ticks).tickFormat(d3.format(".1f")).tickSize(4).tickSizeOuter(0).tickPadding(2));
  ay.select(".domain").attr("stroke","#000").attr("stroke-width",1);
  ay.selectAll(".tick line").attr("stroke","#000");
  ay.selectAll("text").attr("font-size",9.6).attr("fill","#333").attr("font-family",'"Liberation Sans",Arial,sans-serif');
  const axb=g.append("g").attr("transform",`translate(0,${B.yb})`)
    .call(d3.axisBottom(x).tickSize(4).tickSizeOuter(0));
  axb.select(".domain").attr("stroke","#000").attr("stroke-width",1);
  axb.selectAll(".tick line").attr("stroke","#000");
  axb.selectAll("text").attr("font-size",9.6).attr("fill","#333").attr("opacity",0.99).attr("font-family",'"Liberation Sans",Arial,sans-serif')
    .attr("text-anchor","end").attr("x",0).attr("y",0).attr("dy","0.72em").attr("transform","translate(3,8) rotate(-45)");
  g.append("text").attr("transform",`translate(${B.titleX},${(B.yt+B.yb)/2+2}) rotate(-90)`).attr("text-anchor","middle")
    .attr("font-size",10.6).attr("fill","#333").text("Enrichment scores");
  // legend
  const lg=g.append("g");
  lg.append("text").attr("x",738).attr("y",B.legY).attr("font-size",8.4).attr("fill","#333").text(legendTitle);
  groups.forEach((k,j)=>{
    lg.append("rect").attr("x",739.5).attr("y",B.legY+5+j*11.3).attr("width",10.5).attr("height",10.5)
      .attr("fill",groupColors[j]).attr("stroke","#555").attr("stroke-width",1);
    lg.append("text").attr("x",755).attr("y",B.legY+14+j*11.3).attr("font-size",8.4).attr("fill","#333").text(k);
  });
}
violinChart(cats1,sig1,low1,high1,{xa0:43,xa1:735,yd:[-0.11,0.83],yt:488,yb:633,ticks:[0,0.2,0.4,0.6,0.8],sigY:496,titleX:14,legY:540});
violinChart(cats2,sig2,low2,high2,{xa0:49,xa1:733,yd:[-0.241,0.883],yt:721,yb:884,ticks:[-0.2,0,0.2,0.4,0.6,0.8],sigY:729,titleX:14,legY:780});
</script></body></html>
